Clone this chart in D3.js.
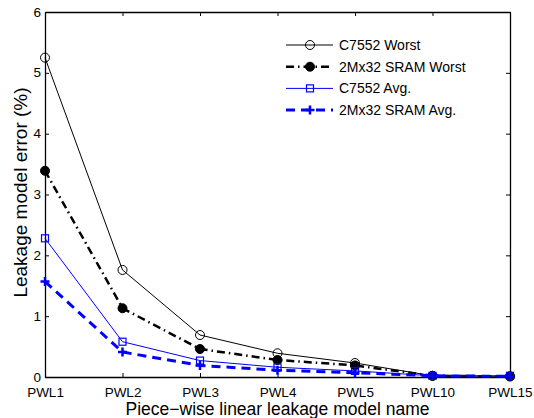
<!DOCTYPE html>
<html><head><meta charset="utf-8">
<script src="https://cdn.jsdelivr.net/npm/d3@7"></script>
<style>body{margin:0;background:#fff}svg{display:block}text{font-family:"Liberation Sans",Arial,sans-serif}</style>
</head><body><svg id="c" width="534" height="418"></svg>
<script>
const categories = ["PWL1","PWL2","PWL3","PWL4","PWL5","PWL10","PWL15"];
const c7552Worst = [5.25, 1.76, 0.69, 0.39, 0.23, 0.02, 0.01];
const sramWorst  = [3.39, 1.13, 0.46, 0.28, 0.19, 0.02, 0.01];
const c7552Avg   = [2.28, 0.58, 0.27, 0.16, 0.10, 0.02, 0.02];
const sramAvg    = [1.57, 0.41, 0.19, 0.11, 0.07, 0.02, 0.01];
const yTicks = [0,1,2,3,4,5,6];
const seriesNames = ["C7552 Worst","2Mx32 SRAM Worst","C7552 Avg.","2Mx32 SRAM Avg."];

const svg = d3.select("#c");
const L=45, R=510, T=12, B=377;
const x = d3.scalePoint().domain(categories).range([L,R]);
const y = d3.scaleLinear().domain([0,6]).range([B,T]);

const series = [
  {name:seriesNames[0], vals:c7552Worst, color:"#000", w:1, dash:null, marker:"circleOpen"},
  {name:seriesNames[1], vals:sramWorst, color:"#000", w:2.5, dash:"8,4,1.5,4", marker:"circleFilled"},
  {name:seriesNames[2], vals:c7552Avg, color:"#0000ff", w:1, dash:null, marker:"square"},
  {name:seriesNames[3], vals:sramAvg, color:"#0000ff", w:3, dash:"9,6", marker:"plus"}
];

function drawMarker(g, type, cx, cy, color){
  if(type==="circleOpen") g.append("circle").attr("cx",cx).attr("cy",cy).attr("r",4.5).attr("fill","none").attr("stroke",color).attr("stroke-width",1);
  else if(type==="circleFilled") g.append("circle").attr("cx",cx).attr("cy",cy).attr("r",4.5).attr("fill",color).attr("stroke",color).attr("stroke-width",1);
  else if(type==="square") g.append("rect").attr("x",cx-3.5).attr("y",cy-3.5).attr("width",7).attr("height",7).attr("fill","none").attr("stroke",color).attr("stroke-width",1.2);
  else if(type==="plus") g.append("path").attr("d",`M${cx-4.5},${cy}H${cx+4.5}M${cx},${cy-4.5}V${cy+4.5}`).attr("stroke",color).attr("stroke-width",2.5);
}

const gx = svg.append("g").attr("transform",`translate(0,${B})`).call(d3.axisBottom(x).tickSizeInner(-4).tickSizeOuter(0).tickPadding(6));
const gxt = svg.append("g").attr("transform",`translate(0,${T})`).call(d3.axisTop(x).tickSizeInner(-4).tickSizeOuter(0).tickFormat(""));
const gy = svg.append("g").attr("transform",`translate(${L},0)`).call(d3.axisLeft(y).tickValues(yTicks).tickSizeInner(-4).tickSizeOuter(0).tickPadding(4).tickFormat(d3.format("d")));
const gyr = svg.append("g").attr("transform",`translate(${R},0)`).call(d3.axisRight(y).tickValues(yTicks).tickSizeInner(-4).tickSizeOuter(0).tickFormat(""));
[gx,gxt,gy,gyr].forEach(g=>{
  g.selectAll("path").attr("stroke","#000").attr("stroke-width",1.3);
  g.selectAll("line").attr("stroke","#000").attr("stroke-width",1);
  g.selectAll("text").attr("font-size",13.5).attr("fill","#000").attr("font-family","Liberation Sans, Arial, sans-serif");
});
gx.selectAll("text").attr("dy",null).attr("y",19.5);
gy.selectAll("text").attr("dy","0.3em");

const line = d3.line().x((d,i)=>x(categories[i])).y(d=>y(d));
series.forEach(s=>{
  const g = svg.append("g");
  g.append("path").datum(s.vals).attr("d",line).attr("fill","none").attr("stroke",s.color).attr("stroke-width",s.w).attr("stroke-dasharray",s.dash);
  s.vals.forEach((v,i)=>drawMarker(g,s.marker,x(categories[i]),y(v),s.color));
});

const lg = svg.append("g");
series.forEach((s,i)=>{
  const yy = 45 + i*21.7;
  lg.append("line").attr("x1",286).attr("x2",333).attr("y1",yy).attr("y2",yy).attr("stroke",s.color).attr("stroke-width",s.w).attr("stroke-dasharray",s.dash);
  drawMarker(lg,s.marker,310,yy,s.color);
  lg.append("text").attr("x",339).attr("y",yy).attr("dy","0.35em").attr("font-size",14).text(s.name);
});

svg.append("text").attr("x",277.5).attr("y",415).attr("text-anchor","middle").attr("font-size",17.5).text("Piece\u2212wise linear leakage model name");
svg.append("text").attr("transform",`translate(27,192.5) rotate(-90)`).attr("text-anchor","middle").attr("font-size",19).text("Leakage model error (%)");
</script></body></html>
